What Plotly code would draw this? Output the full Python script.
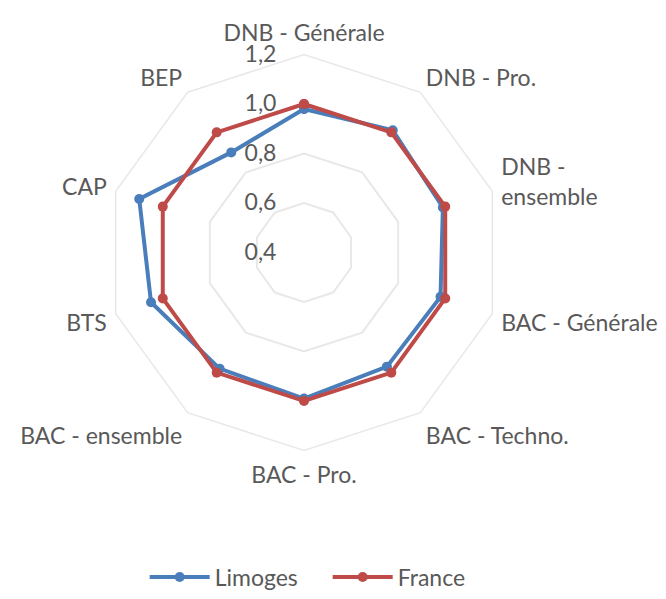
import plotly.graph_objects as go

categories = ["DNB - Générale", "DNB - Pro.", "DNB -<br>ensemble", "BAC - Générale",
              "BAC - Techno.", "BAC - Pro.", "BAC - ensemble", "BTS", "CAP", "BEP"]
limoges = [0.98, 1.01, 0.99, 0.98, 0.97, 0.99, 0.98, 1.05, 1.10, 0.90]
france = [1.0, 1.0, 1.0, 1.0, 1.0, 1.0, 1.0, 1.0, 1.0, 1.0]
radial_ticks = [0.4, 0.6, 0.8, 1.0, 1.2]
radial_ticktext = ["0,4", "0,6", "0,8", "1,0", "1,2"]

FONT = "Lato"
TXT = "#595959"
FS = 23

def closed(v):
    return list(v) + [v[0]]

fig = go.Figure()
fig.add_trace(go.Scatterpolar(
    r=closed(limoges), theta=closed(categories), name="Limoges",
    mode="lines+markers", line=dict(color="#4A7EBB", width=4),
    marker=dict(size=10, color="#4A7EBB")))
fig.add_trace(go.Scatterpolar(
    r=closed(france), theta=closed(categories), name="France",
    mode="lines+markers", line=dict(color="#BE4B48", width=4),
    marker=dict(size=10, color="#BE4B48")))

cx, cy, R = 296, 244.5, 198
W, H = 666, 599
fig.update_layout(
    width=W, height=H,
    margin=dict(l=0, r=0, t=0, b=0),
    paper_bgcolor="white", plot_bgcolor="white",
    font=dict(family=FONT, size=FS, color=TXT),
    polar=dict(
        domain=dict(x=[(cx - R) / W, (cx + R) / W], y=[1 - (cy + R) / H, 1 - (cy - R) / H]),
        bgcolor="white",
        gridshape="linear",
        radialaxis=dict(range=[0.4, 1.2], tickvals=radial_ticks, ticktext=radial_ticktext,
                        angle=90, tickangle=90, side="counterclockwise",
                        showline=False, ticks="outside", ticklen=19,
                        tickcolor="rgba(0,0,0,0)", gridcolor="#E8E8E8", gridwidth=1.5,
                        tickfont=dict(family=FONT, size=FS, color=TXT)),
        angularaxis=dict(direction="clockwise", rotation=90, showgrid=False,
                         showline=True, linecolor="#E8E8E8", linewidth=1.5,
                         ticks="outside", ticklen=4, tickcolor="rgba(0,0,0,0)",
                         tickfont=dict(family=FONT, size=FS, color=TXT)),
    ),
    legend=dict(orientation="h", x=0.48, xanchor="center", y=0.05, yanchor="middle",
                font=dict(family=FONT, size=FS, color=TXT), itemwidth=60,
                entrywidth=108),
    showlegend=True,
)

fig.write_html("out.html")
